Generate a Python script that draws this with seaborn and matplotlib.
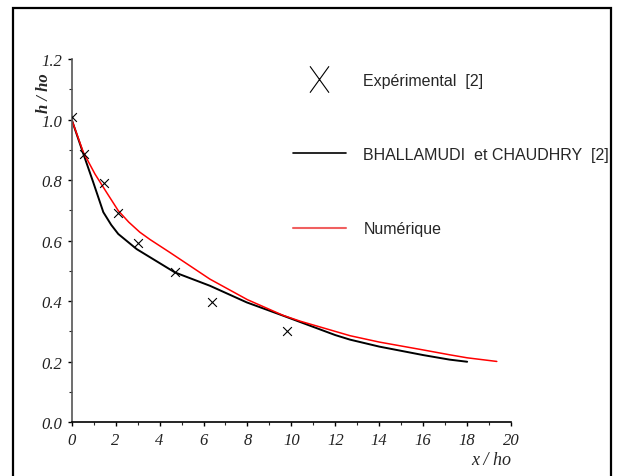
import seaborn as sns
import matplotlib.pyplot as plt
from matplotlib.lines import Line2D
from matplotlib.path import Path
from matplotlib.patches import Rectangle
from matplotlib.ticker import MultipleLocator, FormatStrFormatter

# experimental points
exp_x = [0, 0.54, 1.49, 2.13, 3.0, 4.71, 6.39, 9.81]
exp_y = [1.01, 0.887, 0.789, 0.691, 0.593, 0.495, 0.398, 0.300]

# BHALLAMUDI et CHAUDHRY
bc_x = [0, 0.53, 0.98, 1.44, 1.8, 2.12, 2.96, 3.57, 4.70, 6.29, 7.97, 9.63, 12.0, 12.67, 14.0, 15.0, 16.0, 17.2, 18.0]
bc_y = [1.0, 0.887, 0.793, 0.694, 0.652, 0.622, 0.572, 0.545, 0.495, 0.451, 0.396, 0.352, 0.288, 0.273, 0.25, 0.236, 0.222, 0.207, 0.200]

# Numérique
num_x = [0, 0.53, 1.06, 1.6, 2.12, 2.6, 3.1, 3.56, 4.47, 6.29, 8.0, 9.63, 10.4, 12.67, 14.0, 15.0, 16.0, 17.2, 18.0, 19.35]
num_y = [1.0, 0.892, 0.82, 0.758, 0.699, 0.661, 0.628, 0.604, 0.561, 0.473, 0.405, 0.353, 0.334, 0.286, 0.265, 0.252, 0.239, 0.223, 0.213, 0.201]

sns.set_style("ticks")
plt.rcParams['font.family'] = ['Liberation Serif', 'DejaVu Serif']

fig = plt.figure(figsize=(6.18, 4.77), dpi=100)
ax = fig.add_axes([0.116, 0.1126, 0.711, 0.7616])

sns.lineplot(x=bc_x, y=bc_y, color='black', lw=1.4, ax=ax, legend=False)
sns.lineplot(x=num_x, y=num_y, color='red', lw=1.1, ax=ax, legend=False)
sns.scatterplot(x=exp_x, y=exp_y, marker='x', s=40, color='black', linewidth=0.8, ax=ax, legend=False, zorder=5)

ax.set_xlim(0, 20)
ax.set_ylim(0, 1.2)
ax.xaxis.set_major_locator(MultipleLocator(2))
ax.xaxis.set_minor_locator(MultipleLocator(1))
ax.yaxis.set_major_locator(MultipleLocator(0.2))
ax.yaxis.set_minor_locator(MultipleLocator(0.1))
ax.yaxis.set_major_formatter(FormatStrFormatter('%.1f'))
ax.xaxis.set_major_formatter(FormatStrFormatter('%d'))
for s in ['top', 'right']:
    ax.spines[s].set_visible(False)
ax.spines['left'].set_color('#555555')
ax.spines['bottom'].set_color('black')
ax.spines['left'].set_linewidth(1.2)
ax.spines['bottom'].set_linewidth(1.2)
ax.tick_params(which='major', length=3, width=1, colors='black', labelsize=12, pad=4)
ax.tick_params(which='minor', length=2, width=0.8)
for lbl in ax.get_xticklabels() + ax.get_yticklabels():
    lbl.set_fontstyle('italic')
    lbl.set_color('#222222')

ax.set_ylabel('h / ho', fontsize=12, fontstyle='italic', fontweight='bold')
ax.yaxis.set_label_coords(-0.045, 0.91)
ax.set_xlabel('x / ho', fontsize=13, fontstyle='italic')
ax.xaxis.set_label_coords(0.954, -0.079)

# tall X marker for legend
xpath = Path([(-0.36, -0.5), (0.36, 0.5), (-0.36, 0.5), (0.36, -0.5)],
             [Path.MOVETO, Path.LINETO, Path.MOVETO, Path.LINETO])
handles = [
    Line2D([], [], color='black', marker=xpath, markersize=19, markeredgewidth=0.8, linestyle='none'),
    Line2D([], [], color='black', lw=1.2),
    Line2D([], [], color='#f06060', lw=1.5),
]
labels = ['Expérimental  [2]', 'BHALLAMUDI  et CHAUDHRY  [2]', 'Numérique']
fig.legend(handles, labels, loc='upper left', bbox_to_anchor=(285 / 618, 1 - 66 / 477),
           frameon=False, borderpad=0, handlelength=3.3, handletextpad=1.1,
           labelspacing=3.7, prop={'family': ['Liberation Sans Narrow', 'Liberation Sans'], 'size': 11.5})

fig.patches.append(Rectangle((13 / 618, -0.1), 598 / 618, 1.1 - 9 / 477, transform=fig.transFigure,
                             fill=False, edgecolor='black', lw=1.6))

fig.savefig('out.png', dpi=100)
